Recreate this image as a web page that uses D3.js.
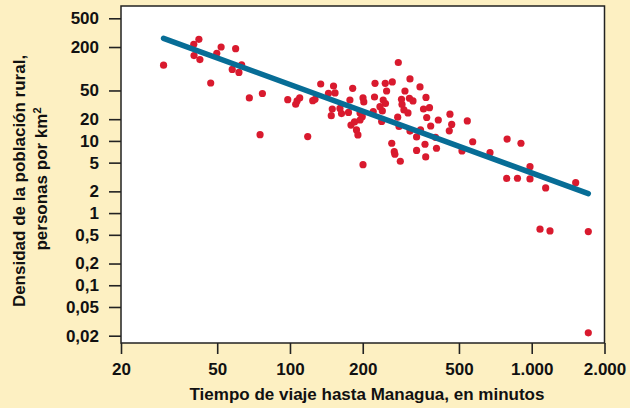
<!DOCTYPE html>
<html>
<head>
<meta charset="utf-8">
<script src="https://cdn.jsdelivr.net/npm/d3@7"></script>
<style>
  body { margin: 0; background: #fdf0c2; }
  svg { display: block; }
  text { font-family: "Liberation Sans", Arial, sans-serif; font-weight: bold; fill: #111; }
</style>
</head>
<body>
<div class="chart"></div>
<script>
'use strict';

// tiempo de viaje (minutos)
var minutes = [30, 40, 42, 40.1, 42.4, 47, 49.8, 51.9, 59.6, 57.7, 61.5, 63.1, 67.9, 76.9, 75.2,
  97.9, 105.6, 107, 109.7, 118.4, 124.2, 126.9, 134, 151.4, 144.3, 153.6, 149.6, 148.2, 161, 163.4,
  181.7, 177, 174.6, 178.8, 184.9, 188.4, 191, 200.5, 199, 194.9, 194.9, 200.5, 202, 223.7, 224.8,
  247.8, 265, 280.6, 313.6, 345, 251, 299, 243, 248.3, 235.6, 241, 221, 239.5, 263.6, 270, 271.6,
  286, 279, 282.5, 289.3, 290.7, 296, 312, 322.7, 307.7, 313.6, 334, 346.7, 365.3, 356.7, 377.6,
  367.8, 382, 410.7, 459, 466.6, 456, 400, 403.7, 361.8, 364.3, 334, 541.4, 570, 514.7, 672, 791,
  902.6, 983.5, 788, 873, 983.5, 1142, 1520, 1082, 1190, 1714, 1714];

// densidad (personas por km2)
var density = [112, 218, 256, 152, 134, 63.5, 164, 200, 190, 98, 89, 113, 39.4, 45.4, 12.2,
  37.3, 32.2, 35.8, 39.4, 11.5, 36.1, 37.8, 61.5, 57.7, 45.7, 46.2, 27.7, 22.4, 28.2, 23.9,
  53.6, 36.9, 24.8, 16.6, 18.3, 14.2, 12.1, 4.69, 21.7, 24.4, 19.5, 39.4, 34.7, 40.6, 62.9,
  62.9, 65.6, 122, 72.2, 55.9, 49.2, 49.2, 36.9, 33, 29.8, 26, 25.4, 18.6, 9.28, 7.1, 6.53,
  5.23, 21.3, 15.9, 37.8, 32, 26.9, 39, 35.8, 24.4, 13.7, 11.35, 14.2, 40, 27.7, 28.9,
  21.1, 16.1, 19.5, 23.5, 16.9, 13.8, 11.2, 7.91, 8.99, 6, 7.38, 18.9, 9.74, 7.26, 6.88, 10.6,
  9.28, 4.4, 3.02, 3.04, 2.97, 2.23, 2.64, 0.598, 0.566, 0.554, 0.0219];

// recta de regresión (extremos)
var fitMinutes = [30, 1714];
var fitDensity = [264, 1.86];

var xTicks = [20, 50, 100, 200, 500, 1000, 2000];
var xTickLabels = ['20', '50', '100', '200', '500', '1.000', '2.000'];
var yTicks = [500, 200, 50, 20, 10, 5, 2, 1, 0.5, 0.2, 0.1, 0.05, 0.02];
var yTickLabels = ['500', '200', '50', '20', '10', '5', '2', '1', '0,5', '0,2', '0,1', '0,05', '0,02'];

var W = 630, H = 408;
var plot = {left: 121, top: 6, right: 604.5, bottom: 343};

var x = d3.scaleLog()
  .domain([20, 2000])
  .range([plot.left, plot.right]);

var y = d3.scaleLog()
  .domain([0.02, 500])
  .range([335.7, 18.3]);

var svg = d3.select('.chart').append('svg')
  .attr('width', W)
  .attr('height', H);

svg.append('rect')
  .attr('width', W)
  .attr('height', H)
  .attr('fill', '#fdf0c2');

svg.append('rect')
  .attr('x', plot.left)
  .attr('y', plot.top)
  .attr('width', plot.right - plot.left)
  .attr('height', plot.bottom - plot.top)
  .attr('fill', '#fff');

// ejes
var xAxis = svg.append('g')
  .attr('transform', 'translate(0,' + plot.bottom + ')')
  .call(d3.axisBottom(x)
    .tickValues(xTicks)
    .tickFormat(function(d, i) { return xTickLabels[i]; })
    .tickSize(11)
    .tickPadding(9));

var yAxis = svg.append('g')
  .attr('transform', 'translate(' + plot.left + ',0)')
  .call(d3.axisLeft(y)
    .tickValues(yTicks)
    .tickFormat(function(d, i) { return yTickLabels[i]; })
    .tickSize(12)
    .tickPadding(10));

[xAxis, yAxis].forEach(function(g) {
  g.select('.domain').remove();
  g.selectAll('line').attr('stroke', '#222').attr('stroke-width', 1.6);
  g.selectAll('text')
    .attr('font-family', null)
    .attr('font-size', null)
    .style('font-size', '17px')
    .attr('fill', '#111');
});

// puntos
svg.append('g').selectAll('circle')
  .data(minutes)
  .enter().append('circle')
  .attr('cx', function(d) { return x(d); })
  .attr('cy', function(d, i) { return y(density[i]); })
  .attr('r', 3.6)
  .attr('fill', '#d91a2e');

// recta
svg.append('line')
  .attr('x1', x(fitMinutes[0]))
  .attr('y1', y(fitDensity[0]))
  .attr('x2', x(fitMinutes[1]))
  .attr('y2', y(fitDensity[1]))
  .attr('stroke', '#076d96')
  .attr('stroke-width', 5.5)
  .attr('stroke-linecap', 'round');

// marco
svg.append('rect')
  .attr('x', plot.left)
  .attr('y', plot.top)
  .attr('width', plot.right - plot.left)
  .attr('height', plot.bottom - plot.top)
  .attr('fill', 'none')
  .attr('stroke', '#222')
  .attr('stroke-width', 1.5);

// títulos
svg.append('text')
  .attr('x', 367)
  .attr('y', 400)
  .attr('text-anchor', 'middle')
  .style('font-size', '17px')
  .text('Tiempo de viaje hasta Managua, en minutos');

svg.append('text')
  .attr('transform', 'translate(25,181) rotate(-90)')
  .attr('text-anchor', 'middle')
  .style('font-size', '17px')
  .text('Densidad de la población rural,');

var t2 = svg.append('text')
  .attr('transform', 'translate(47,179) rotate(-90)')
  .attr('text-anchor', 'middle')
  .style('font-size', '17px');
t2.append('tspan').text('personas por km');
t2.append('tspan')
  .attr('dy', -6)
  .style('font-size', '11px')
  .text('2');
</script>
</body>
</html>
